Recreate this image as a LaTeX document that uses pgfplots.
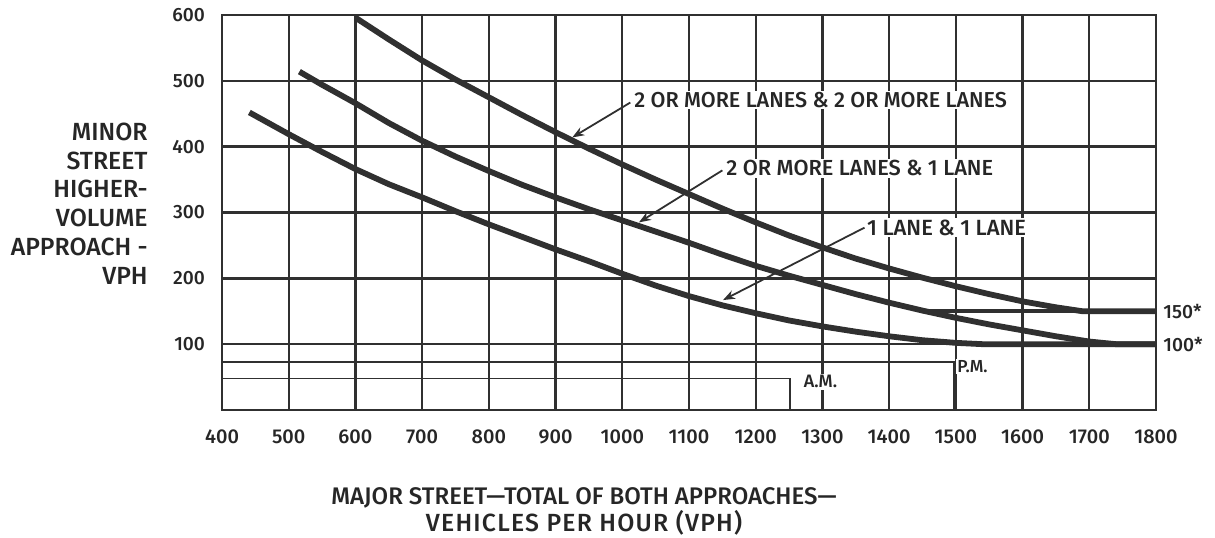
\documentclass[border=0pt]{standalone}
\usepackage{fontspec}
\IfFontExistsTF{Fira Sans Medium}{\setmainfont{Fira Sans Medium}}{\setmainfont{PT Sans}[UprightFont={* Bold}]}
\usepackage{pgfplots}
\pgfplotsset{compat=1.18}
\usetikzlibrary{arrows.meta}
\definecolor{ink}{HTML}{303030}
\definecolor{txt}{HTML}{262626}
\begin{document}
\begin{tikzpicture}
\useasboundingbox (-111pt,-63.5pt) rectangle (496.5pt,205pt);
\begin{axis}[
  at={(0pt,0pt)}, anchor=south west,
  scale only axis, width=467pt, height=197.5pt,
  xmin=400, xmax=1800, ymin=0, ymax=600,
  xtick={400,500,...,1800}, ytick={100,200,...,600},
  grid=major, major grid style={ink, line width=1.2pt},
  axis line style={ink, line width=1.2pt},
  major tick length=0pt,
  tick label style={font=\fontsize{9.6}{11}\selectfont, text=txt},
  xticklabel style={font=\fontsize{10}{11}\selectfont, yshift=-6.5pt},
  /pgf/number format/assume math mode=true,
  /pgf/number format/1000 sep={},
  yticklabel style={xshift=-5pt},
  clip=false,
]
% bottom reference lines
\addplot[ink, line width=0.8pt] coordinates {(400,73) (1497,73) (1497,0)};
\addplot[ink, line width=0.8pt] coordinates {(400,48) (1251,48) (1251,0)};
% 150 line
\addplot[ink, line width=2pt] coordinates {(1446,150) (1800,150)};
% 2 or more & 2 or more
\addplot[ink, line width=2.9pt, line join=round] coordinates {
(600,596) (650,563) (700,531) (750,502) (800,475) (850,448) (900,422) (950,397)
(1000,373) (1050,350) (1100,328) (1150,306) (1200,285) (1250,265) (1300,247)
(1350,230) (1400,215) (1450,201) (1500,188) (1550,176) (1600,165) (1650,156)
(1690,150) (1800,150)};
% 2 or more & 1
\addplot[ink, line width=2.9pt, line join=round] coordinates {
(516,514) (550,494) (600,466) (650,436) (700,409) (750,385) (800,363) (850,342)
(900,323) (950,305) (1000,288) (1050,271) (1100,254) (1150,236) (1200,219)
(1250,204) (1300,190) (1350,176) (1400,163) (1450,151) (1500,140) (1550,130)
(1600,121) (1650,112) (1700,104) (1740,100) (1800,100)};
% 1 & 1
\addplot[ink, line width=2.9pt, line join=round] coordinates {
(441,452) (500,419) (550,392) (600,366) (650,343) (700,323) (750,302) (800,282)
(850,263) (900,244) (950,226) (1000,207) (1050,189) (1100,173) (1150,159)
(1200,147) (1250,136) (1300,127) (1350,119) (1400,112) (1450,106) (1500,102)
(1540,100) (1800,100)};
% arrows
\addplot[ink, line width=0.9pt, -{Stealth[length=6pt,width=4.5pt]}] coordinates {(1012,467) (925,414)};
\addplot[ink, line width=0.9pt, -{Stealth[length=6pt,width=4.5pt]}] coordinates {(1150,364) (1025,285)};
\addplot[ink, line width=0.9pt, -{Stealth[length=6pt,width=4.5pt]}] coordinates {(1363,277) (1151,167)};
% labels
\node[anchor=west, font=\fontsize{10.8}{12}\selectfont, text=txt, fill=white, inner sep=0.8pt] at (axis cs:1015,471) {2 OR MORE LANES \& 2 OR MORE LANES};
\node[anchor=west, font=\fontsize{10.9}{12}\selectfont, text=txt, fill=white, inner sep=0.8pt] at (axis cs:1153,367) {2 OR MORE LANES \& 1 LANE};
\node[anchor=west, font=\fontsize{11}{12}\selectfont, text=txt, fill=white, inner sep=0.8pt] at (axis cs:1364,277) {1 LANE \& 1 LANE};
\node[anchor=west, font=\fontsize{9.6}{11}\selectfont, text=txt, inner sep=0pt, xshift=3.5pt] at (axis cs:1800,150) {150*};
\node[anchor=west, font=\fontsize{9.6}{11}\selectfont, text=txt, inner sep=0pt, xshift=3.5pt] at (axis cs:1800,100) {100*};
\node[font=\fontsize{9}{10}\selectfont, text=txt, fill=white, inner sep=0.8pt] at (axis cs:1297,43) {A.M.};
\node[font=\fontsize{8.7}{10}\selectfont, text=txt, fill=white, inner sep=0.8pt] at (axis cs:1525,66) {P.M.};
\end{axis}
\node[anchor=east, align=right, font=\fontsize{12.4}{14.4}\selectfont, text=txt, inner sep=0pt] at (-37pt,103.2pt)
  {MINOR\\STREET\\HIGHER-\\VOLUME\\APPROACH -\\VPH};
\node[font=\fontsize{12}{13}\selectfont, text=txt, inner sep=0pt] at (181pt,-44pt)
  {MAJOR STREET---TOTAL OF BOTH APPROACHES---};
\node[font=\fontsize{12.4}{13}\selectfont\addfontfeatures{LetterSpace=5}, text=txt, inner sep=0pt] at (181pt,-56.5pt)
  {VEHICLES PER HOUR (VPH)};
\end{tikzpicture}
\end{document}
